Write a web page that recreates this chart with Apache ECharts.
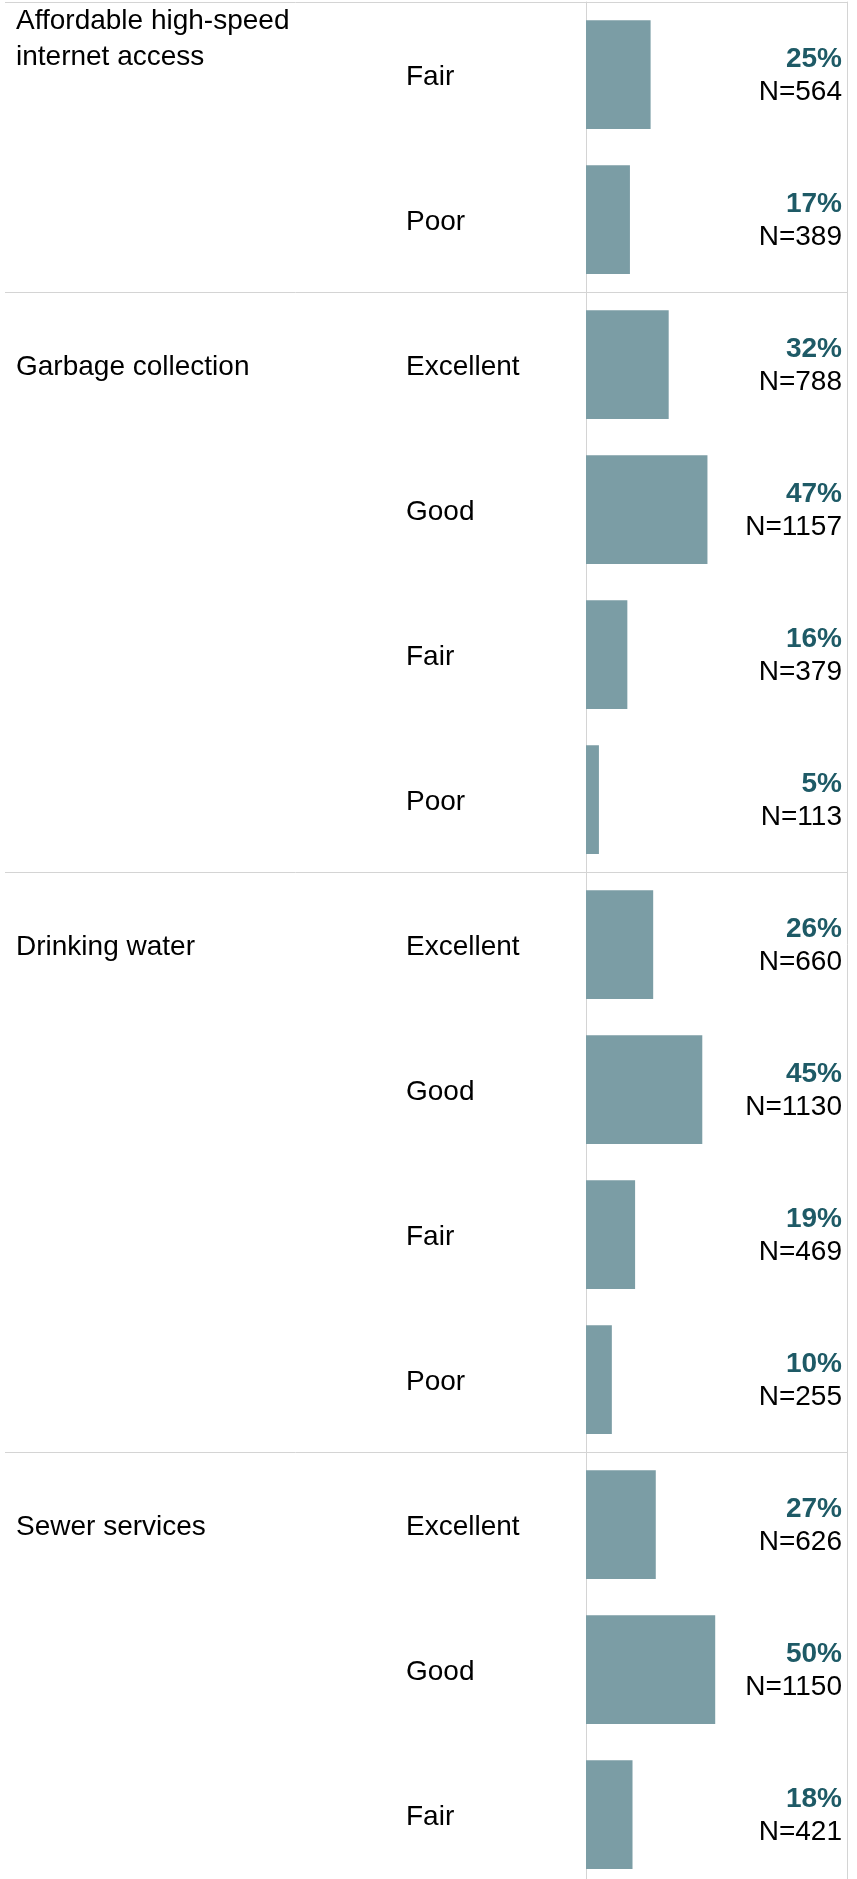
<!DOCTYPE html>
<html>
<head>
<meta charset="utf-8">
<script src="https://cdn.jsdelivr.net/npm/echarts@6/dist/echarts.min.js"></script>
<style>
html,body{margin:0;padding:0;background:#fff;overflow:hidden;}
#wrap{width:857px;height:1879px;overflow:hidden;position:relative;}
#chart{width:857px;height:1890px;}
</style>
</head>
<body>
<div id="wrap"><div id="chart"></div></div>
<script>
// ---- data ----
const groups = ['Affordable high-speed\ninternet access', 'Garbage collection', 'Drinking water', 'Sewer services'];
const rowGroup = [0, 0, 1, 1, 1, 1, 2, 2, 2, 2, 3, 3, 3];
const ratings = ['Fair', 'Poor', 'Excellent', 'Good', 'Fair', 'Poor', 'Excellent', 'Good', 'Fair', 'Poor', 'Excellent', 'Good', 'Fair'];
const percents = [25, 17, 32, 47, 16, 5, 26, 45, 19, 10, 27, 50, 18];
const counts = [564, 389, 788, 1157, 379, 113, 660, 1130, 469, 255, 626, 1150, 421];

// ---- styles ----
const FONT = '"Liberation Sans", Arial, Helvetica, sans-serif';
const BAR = '#7b9da5';
const TEAL = '#1e5a66';
const LINE = '#d4d4d4';

const rowKeys = ratings.map((r, i) => String(i));
// boundaries where a new group starts (index 0 is the top border)
const boundaries = rowGroup.map((g, i) => (i === 0 || g !== rowGroup[i - 1]) ? i : -1).filter(i => i >= 0);
const isBoundary = (i) => boundaries.indexOf(Number(i)) >= 0;

const chart = echarts.init(document.getElementById('chart'), null, {renderer: 'canvas'});
const option = {
  backgroundColor: '#fff',
  animation: false,
  grid: {left: 586, right: 10, top: 2, height: 145 * rowKeys.length, containLabel: false},
  xAxis: {type: 'value', min: 0, max: 101, show: false},
  yAxis: [
    {
      type: 'category', data: rowKeys, inverse: true, position: 'left',
      axisLine: {show: true, lineStyle: {color: LINE, width: 1}},
      axisTick: {show: true, length: 581, interval: (i) => isBoundary(i), lineStyle: {color: LINE, width: 1}},
      splitLine: {show: true, interval: (i) => isBoundary(i), lineStyle: {color: LINE, width: 1}},
      axisLabel: {
        interval: 0, align: 'left', margin: 570,
        formatter: (v) => {
          const i = Number(v);
          const startsGroup = i > 0 && rowGroup[i] !== rowGroup[i - 1];
          if (startsGroup) return '{g|' + groups[rowGroup[i]] + '}{c|' + ratings[i] + '}';
          return '{c2|' + ratings[i] + '}';
        },
        rich: {
          g: {width: 390, fontFamily: FONT, fontSize: 28, color: '#000', padding: [5, 0, 0, 0]},
          c: {fontFamily: FONT, fontSize: 28, color: '#000', padding: [5, 0, 0, 0]},
          c2: {fontFamily: FONT, fontSize: 28, color: '#000', padding: [5, 0, 0, 390]}
        }
      }
    },
    {
      type: 'category', data: rowKeys, inverse: true, position: 'right',
      axisLine: {show: true, onZero: false, lineStyle: {color: LINE, width: 1}},
      axisTick: {show: false},
      splitLine: {show: false},
      axisLabel: {
        interval: 0, inside: true, align: 'right', margin: 5,
        formatter: (v) => {
          const i = Number(v);
          return '{p|' + percents[i] + '%}\n{n|N=' + counts[i] + '}';
        },
        rich: {
          p: {fontFamily: FONT, fontSize: 28, fontWeight: 'bold', color: TEAL, lineHeight: 35, align: 'right', padding: [4, 0, 0, 0]},
          n: {fontFamily: FONT, fontSize: 28, color: '#000', lineHeight: 35, align: 'right'}
        }
      }
    }
  ],
  series: [{
    type: 'bar',
    yAxisIndex: 0,
    data: percents,
    barCategoryGap: '25%',
    itemStyle: {color: BAR},
    silent: true
  }],
  graphic: [{
    type: 'text', left: 16, top: 3,
    style: {text: groups[rowGroup[0]], font: '28px ' + FONT, fill: '#000', lineHeight: 36}
  }]
};
chart.setOption(option);
</script>
</body>
</html>
